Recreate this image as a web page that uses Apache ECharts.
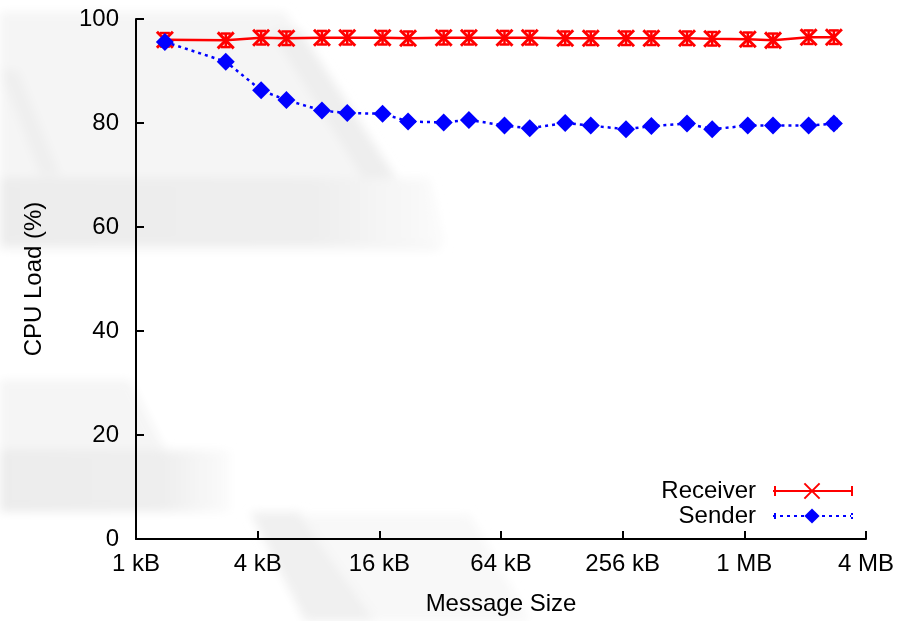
<!DOCTYPE html>
<html>
<head>
<meta charset="utf-8">
<title>CPU Load vs Message Size</title>
<script src="https://cdn.jsdelivr.net/npm/echarts@6/dist/echarts.min.js"></script>
<style>
  html, body { margin: 0; padding: 0; background: #ffffff; }
  #wrap { position: relative; width: 912px; height: 621px; overflow: hidden; }
  #bg { position: absolute; left: 0; top: 0; width: 912px; height: 621px; z-index: 0; }
  #chart { position: absolute; left: 0; top: 0; width: 912px; height: 621px; z-index: 1; }
</style>
</head>
<body>
<div id="wrap">
  <!-- faint logo shading behind the plot -->
  <svg id="bg" width="912" height="621" xmlns="http://www.w3.org/2000/svg">
    <defs>
      <filter id="soft" x="-20%" y="-20%" width="140%" height="140%">
        <feGaussianBlur stdDeviation="5"/>
      </filter>
      <linearGradient id="fadeR" x1="0" x2="1" y1="0" y2="0">
        <stop offset="0" stop-color="#ececec"/>
        <stop offset="0.7" stop-color="#eeeeee"/>
        <stop offset="1" stop-color="#fbfbfb"/>
      </linearGradient>
    </defs>
    <g filter="url(#soft)">
      <polygon points="0,12 285,12 440,250 0,250" fill="#f5f5f5"/>
      <polygon points="270,30 300,30 440,245 405,245" fill="#eeeeee"/>
      <polygon points="0,70 18,70 60,175 40,175" fill="#efefef"/>
      <polygon points="0,178 430,178 445,245 0,245" fill="url(#fadeR)"/>
      <polygon points="0,380 130,380 165,450 0,450" fill="#f5f5f5"/>
      <polygon points="0,450 230,450 230,512 0,512" fill="url(#fadeR)"/>
      <polygon points="250,512 300,512 375,621 305,621" fill="#f0f0f0"/>
      <polygon points="300,515 470,515 530,621 375,621" fill="#f8f8f8"/>
    </g>
  </svg>
  <div id="chart"></div>
</div>
<script>
// Message sizes in kB (x values of both series)
const messageSizes = [1.39, 2.78, 4.16, 5.55, 8.32, 11.1, 16.6, 22.2, 33.3, 44.4, 66.6, 88.8,
                      133, 178, 266, 355, 533, 710, 1065, 1420, 2130, 2840];
// CPU load (%) measured on the receiving side
const receiverLoad = [96.0, 95.9, 96.4, 96.3, 96.4, 96.4, 96.4, 96.3, 96.4, 96.4, 96.4, 96.4,
                      96.3, 96.3, 96.3, 96.3, 96.3, 96.2, 96.1, 95.9, 96.5, 96.5];
const receiverErr = [1.3, 1.3, 1.3, 1.3, 1.3, 1.3, 1.3, 1.3, 1.3, 1.3, 1.3, 1.3,
                     1.3, 1.3, 1.3, 1.3, 1.3, 1.3, 1.3, 1.3, 1.3, 1.3];
// CPU load (%) measured on the sending side
const senderLoad = [95.6, 91.8, 86.3, 84.4, 82.4, 81.9, 81.8, 80.3, 80.1, 80.6, 79.5, 79.0,
                    80.0, 79.5, 78.8, 79.4, 79.9, 78.8, 79.5, 79.5, 79.5, 79.9];
const senderErr = [0.3, 0.3, 0.3, 0.3, 0.3, 0.3, 0.3, 0.3, 0.3, 0.3, 0.3, 0.3,
                   0.3, 0.3, 0.3, 0.3, 0.3, 0.3, 0.3, 0.3, 0.3, 0.9];
// Axis ticks
const xTickValues = [1, 4, 16, 64, 256, 1024, 4096];
const xTickLabels = ['1 kB', '4 kB', '16 kB', '64 kB', '256 kB', '1 MB', '4 MB'];
const yTicks = [0, 20, 40, 60, 80, 100];

const FONT = '"Liberation Sans", Arial, Helvetica, sans-serif';
const RED = '#ff0000';
const BLUE = '#0000ff';

function pairs(xs, ys) { return xs.map((x, i) => [x, ys[i]]); }
function triples(xs, ys, es) { return xs.map((x, i) => [x, ys[i], es[i]]); }

// vertical error bar with small caps
function errorBarRenderer(color, capHalf, width) {
  return function (params, api) {
    const x = api.value(0), y = api.value(1), e = api.value(2);
    const top = api.coord([x, y + e]);
    const bot = api.coord([x, y - e]);
    const st = { stroke: color, lineWidth: width };
    return {
      type: 'group',
      children: [
        { type: 'line', shape: { x1: top[0], y1: top[1], x2: bot[0], y2: bot[1] }, style: st },
        { type: 'line', shape: { x1: top[0] - capHalf, y1: top[1], x2: top[0] + capHalf, y2: top[1] }, style: st },
        { type: 'line', shape: { x1: bot[0] - capHalf, y1: bot[1], x2: bot[0] + capHalf, y2: bot[1] }, style: st }
      ]
    };
  };
}

const chart = echarts.init(document.getElementById('chart'), null, { renderer: 'canvas' });

// legend sample end caps (error-bar style key)
const LEG_X0 = 775, LEG_X1 = 852, LEG_Y0 = 491, LEG_Y1 = 516;
function capLine(x, y, h, color, dashed) {
  return {
    type: 'line',
    shape: { x1: x, y1: y - h, x2: x, y2: y + h },
    style: { stroke: color, lineWidth: 2, lineDash: dashed ? [2, 2] : null },
    z: 10
  };
}

chart.setOption({
  animation: false,
  backgroundColor: 'transparent',
  textStyle: { fontFamily: FONT },
  grid: { left: 136, right: 46, top: 19, bottom: 78.5, containLabel: false },
  xAxis: {
    type: 'log',
    logBase: 4,
    min: xTickValues[0],
    max: xTickValues[xTickValues.length - 1],
    splitNumber: xTickValues.length - 1,
    name: 'Message Size',
    nameLocation: 'middle',
    nameGap: 53,
    nameTextStyle: { fontSize: 24, color: '#000', fontFamily: FONT },
    axisLine: { lineStyle: { color: '#000', width: 2 } },
    axisTick: { inside: true, length: 8, lineStyle: { color: '#000', width: 2 } },
    minorTick: { show: false },
    splitLine: { show: false },
    axisLabel: {
      fontSize: 24, color: '#000', margin: 13, fontFamily: FONT,
      formatter: function (v) {
        const idx = Math.round(Math.log(v) / Math.log(4));
        return xTickLabels[idx] !== undefined ? xTickLabels[idx] : '';
      }
    }
  },
  yAxis: {
    type: 'value',
    min: yTicks[0],
    max: yTicks[yTicks.length - 1],
    interval: yTicks[1] - yTicks[0],
    name: 'CPU Load (%)',
    nameLocation: 'middle',
    nameGap: 90,
    nameRotate: 90,
    nameTextStyle: { fontSize: 24, color: '#000', fontFamily: FONT },
    axisLine: { show: true, lineStyle: { color: '#000', width: 2 } },
    axisTick: { show: true, inside: true, length: 8, lineStyle: { color: '#000', width: 2 } },
    splitLine: { show: false },
    axisLabel: { fontSize: 24, color: '#000', margin: 17, fontFamily: FONT }
  },
  legend: {
    data: ['Receiver', 'Sender'],
    orient: 'vertical',
    align: 'right',
    right: 60,
    top: 479,
    itemWidth: 78,
    itemHeight: 19,
    itemGap: 1,
    padding: 0,
    textStyle: { fontSize: 24, color: '#000', fontFamily: FONT, padding: [0, 12, 0, 0] }
  },
  graphic: [
    capLine(LEG_X0, LEG_Y0, 5, RED, false),
    capLine(LEG_X1, LEG_Y0, 5, RED, false),
    capLine(LEG_X0, LEG_Y1, 3, BLUE, true),
    capLine(LEG_X1, LEG_Y1, 3, BLUE, true)
  ],
  series: [
    {
      name: 'Receiver errors',
      type: 'custom',
      renderItem: errorBarRenderer(RED, 5, 2.5),
      data: triples(messageSizes, receiverLoad, receiverErr),
      encode: { x: 0, y: 1 },
      z: 3
    },
    {
      name: 'Sender errors',
      type: 'custom',
      renderItem: errorBarRenderer(BLUE, 4, 2),
      data: triples(messageSizes, senderLoad, senderErr),
      encode: { x: 0, y: 1 },
      z: 3
    },
    {
      name: 'Receiver',
      type: 'line',
      data: pairs(messageSizes, receiverLoad),
      symbol: 'path://M0,0L10,10M10,0L0,10',
      symbolSize: 16,
      lineStyle: { color: RED, width: 2.5, type: 'solid' },
      itemStyle: { color: RED, borderColor: RED, borderWidth: 3 },
      z: 4
    },
    {
      name: 'Sender',
      type: 'line',
      data: pairs(messageSizes, senderLoad),
      symbol: 'diamond',
      symbolSize: 18,
      lineStyle: { color: BLUE, width: 2.5, type: [3, 4] },
      itemStyle: { color: BLUE, borderWidth: 0 },
      z: 5
    }
  ]
});
</script>
</body>
</html>
